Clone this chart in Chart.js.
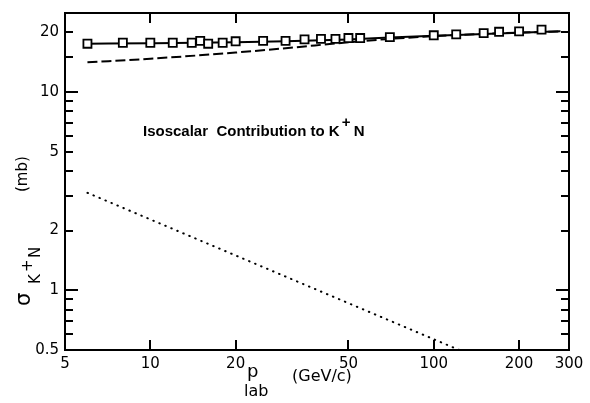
<!DOCTYPE html>
<html>
<head>
<meta charset="utf-8">
<script src="https://cdn.jsdelivr.net/npm/chart.js@4.4.1/dist/chart.umd.min.js"></script>
<style>
html,body{margin:0;padding:0;background:#fff;}
#wrap{width:590px;height:403px;}
</style>
</head>
<body>
<div id="wrap"><canvas id="sigmaChart" width="590" height="403"></canvas></div>
<script>
// sigma(K+N) isoscalar part vs p_lab, log-log
const pData = [6, 8, 10, 12, 14, 15, 16, 18, 20, 25, 30, 35, 40, 45, 50, 55, 70, 100, 120, 150, 170, 200, 240];
const sigmaData = [17.5, 17.7, 17.7, 17.7, 17.7, 18.1, 17.5, 17.7, 18.0, 18.1, 18.1, 18.4, 18.5, 18.5, 18.7, 18.7, 18.9, 19.3, 19.5, 19.8, 20.1, 20.2, 20.6];

// fitted curves
const fitP = [6, 10, 20, 30, 50, 70, 100, 150, 200, 280];
const fitTotal = [17.5, 17.6, 17.8, 18.0, 18.4, 18.8, 19.2, 19.6, 19.9, 20.2];
const fitScalar = [14.1, 14.7, 15.8, 16.6, 17.8, 18.5, 19.1, 19.6, 19.9, 20.2];

const dotP = [6, 123];
const dotSigma = [3.1, 0.5];

const xTicks = [5, 10, 20, 50, 100, 200, 300];
const yTicks = [0.5, 1, 2, 5, 10, 20];
const yMinor = [0.6, 0.7, 0.8, 0.9, 3, 4, 6, 7, 8, 9, 15];

const FONT = '"Liberation Sans", Arial, sans-serif';
const DJ = '"DejaVu Sans", sans-serif';

function pts(xs, ys){ return xs.map((x,i)=>({x:x, y:ys[i]})); }

// frame, inward ticks and axis titles
const framePlugin = {
  id:'axisFrame',
  afterDraw(chart){
    const ctx = chart.ctx;
    const a = chart.chartArea;
    const xs = chart.scales.x, ys = chart.scales.y;
    ctx.save();
    ctx.strokeStyle = '#000';
    ctx.fillStyle = '#000';
    ctx.lineWidth = 2;
    ctx.strokeRect(a.left, a.top, a.right - a.left, a.bottom - a.top);

    for (const v of xTicks) {
      if (v === 5 || v === 300) continue;
      const px = Math.round(xs.getPixelForValue(v));
      ctx.fillRect(px - 1, a.bottom - 10, 2, 10);
      ctx.fillRect(px - 1, a.top, 2, 10);
    }
    for (const v of yTicks.concat(yMinor)) {
      if (v === 0.5) continue;
      const py = Math.round(ys.getPixelForValue(v));
      const len = (v === 1 || v === 10) ? 13 : 8;
      ctx.fillRect(a.left, py - 1, len, 2);
      ctx.fillRect(a.right - len, py - 1, len, 2);
    }

    ctx.textBaseline = 'alphabetic';
    ctx.textAlign = 'left';

    // label inside the plot
    ctx.font = 'bold 15px ' + FONT;
    const t1 = 'Isoscalar  Contribution to K';
    ctx.fillText(t1, 143, 136);
    const w = ctx.measureText(t1).width;
    ctx.fillText('+', 143 + w + 2, 127);
    ctx.fillText('N', 143 + w + 14, 136);

    // x title
    ctx.font = '18px ' + DJ;
    ctx.fillText('p', 247, 377);
    ctx.font = '16px ' + DJ;
    ctx.fillText('lab', 244, 396);
    ctx.fillText('(GeV/c)', 292, 381);

    // y title, rotated
    ctx.translate(30, 0);
    ctx.rotate(-Math.PI / 2);
    ctx.font = '21px ' + DJ;
    ctx.fillText('σ', -306, 0);
    ctx.font = '15px ' + DJ;
    ctx.fillText('K', -284, 10);
    ctx.fillText('+', -272, 2);
    ctx.fillText('N', -258, 10);
    ctx.fillText('(mb)', -192, -3);
    ctx.restore();
  }
};

new Chart(document.getElementById('sigmaChart'), {
  type:'line',
  data:{
    datasets:[
      { data: pts(pData, sigmaData), showLine:false, pointStyle:'rect', pointRadius:5.7,
        pointBorderWidth:1.8, pointBorderColor:'#000', pointBackgroundColor:'#fff' },
      { data: pts(fitP, fitTotal), borderColor:'#000', borderWidth:2, pointRadius:0,
        cubicInterpolationMode:'monotone' },
      { data: pts(fitP, fitScalar), borderColor:'#000', borderWidth:2, pointRadius:0,
        borderDash:[10, 4], cubicInterpolationMode:'monotone' },
      { data: pts(dotP, dotSigma), borderColor:'#000', borderWidth:2, pointRadius:0,
        borderDash:[0.5, 6], borderCapStyle:'round' }
    ]
  },
  options:{
    responsive:false,
    animation:false,
    layout:{ padding:{ left:0, top:13, right:21, bottom:0 } },
    plugins:{ legend:{display:false}, tooltip:{enabled:false} },
    scales:{
      x:{
        type:'logarithmic', min:5, max:300,
        grid:{display:false}, border:{display:false},
        afterBuildTicks: s => { s.ticks = xTicks.map(v=>({value:v})); },
        afterFit: s => { s.height = 53; },
        ticks:{ color:'#000', font:{family:DJ, size:15}, padding:-3, maxRotation:0, autoSkip:false,
          callback: v => String(v) }
      },
      y:{
        type:'logarithmic', min:0.5, max:25,
        grid:{display:false}, border:{display:false},
        afterBuildTicks: s => { s.ticks = yTicks.map(v=>({value:v})); },
        afterFit: s => { s.width = 65; },
        ticks:{ color:'#000', font:{family:DJ, size:15}, padding:-2, autoSkip:false,
          callback: v => String(v) }
      }
    }
  },
  plugins:[framePlugin]
});
</script>
</body>
</html>
